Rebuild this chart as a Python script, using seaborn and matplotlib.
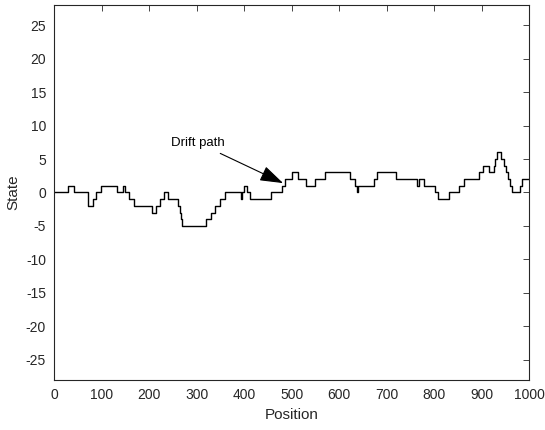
import numpy as np
import pandas as pd
import matplotlib
matplotlib.use("Agg")
import matplotlib.pyplot as plt
import seaborn as sns

# --- data: breakpoints of the stepped drift path (value holds until next position) ---
positions = [0, 29, 41, 70, 81, 87, 99, 133, 144, 150, 158, 167, 205, 215, 223, 232,
             239, 261, 264, 267, 270, 320, 330, 339, 350, 359, 394, 396, 399, 406,
             413, 456, 480, 487, 500, 513, 530, 550, 570, 623, 634, 638, 640, 673,
             680, 720, 763, 769, 779, 802, 808, 832, 852, 864, 894, 904, 915, 926,
             928, 932, 942, 947, 952, 955, 959, 964, 982, 986, 1000]
states = [0, 1, 0, -2, -1, 0, 1, 0, 1, 0, -1, -2, -3, -2, -1, 0,
          -1, -2, -3, -4, -5, -4, -3, -2, -1, 0, -1, 0, 1, 0,
          -1, 0, 1, 2, 3, 2, 1, 2, 3, 2, 1, 0, 1, 2,
          3, 2, 1, 2, 1, 0, -1, 0, 1, 2, 3, 4, 3, 4,
          5, 6, 5, 4, 3, 2, 1, 0, 1, 2, 2]

xticks = list(range(0, 1001, 100))
yticks = list(range(-25, 26, 5))

df = pd.DataFrame({"Position": positions, "State": states})

# --- style ---
sns.set_theme(style="white")
plt.rcParams["font.family"] = ["Liberation Sans", "DejaVu Sans"]
plt.rcParams["axes.unicode_minus"] = False
plt.rcParams["xtick.direction"] = "in"
plt.rcParams["ytick.direction"] = "in"

fig = plt.figure(figsize=(5.45, 4.30), dpi=100)
ax = fig.add_axes([0.0996, 0.1163, 0.8711, 0.8721])

sns.lineplot(data=df, x="Position", y="State", drawstyle="steps-post",
             color="black", linewidth=1.0, ax=ax)

ax.set_xlim(0, 1000)
ax.set_ylim(-28, 28)
ax.set_xticks(xticks)
ax.set_yticks(yticks)
ax.tick_params(axis="both", which="both", labelsize=10, colors="#262626",
               length=4, width=0.6, top=True, right=True, pad=6)
for s in ax.spines.values():
    s.set_color("#262626")
    s.set_linewidth(0.8)
ax.set_xlabel("Position", fontsize=11, color="#262626", labelpad=4)
ax.set_ylabel("State", fontsize=11, color="#262626", labelpad=4)

ax.annotate("Drift path", xy=(482, 1.4), xytext=(303, 7.4),
            fontsize=9.5, ha="center", va="center", color="black",
            arrowprops=dict(arrowstyle="-|>,head_length=0.9,head_width=0.3",
                            color="black", lw=0.8,
                            mutation_scale=16, shrinkA=2, shrinkB=0))

fig.savefig("out.png", dpi=100)
